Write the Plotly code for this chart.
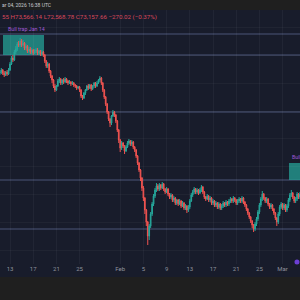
import plotly.graph_objects as go
import pandas as pd

# ---- data (6h candles) ----
start = "2026-01-11 06:00"
first_open = 91860
close = [92040, 92400, 91860, 91500, 92040, 91680, 92400, 93480, 94560, 94200,
         95640, 96180, 97080, 96900, 97620, 96900, 97260, 96360, 96720, 95820,
         96180, 95640, 96000, 95460, 95820, 96000, 95460, 95820, 95280, 95640,
         95100, 94020, 93120, 93480, 92220, 91320, 90600, 89520, 88800, 89520,
         90420, 90780, 90060, 90600, 90240, 90780, 90420, 90060, 90240, 89880,
         90060, 89700, 89520, 89160, 89340, 88800, 87720, 87360, 88260, 88800,
         89520, 89160, 89700, 88980, 89520, 90060, 89520, 90060, 90600, 90960,
         90060, 88800, 87540, 86280, 84840, 83580, 82860, 84120, 84840, 84300,
         83220, 81600, 79800, 78360, 79260, 78720, 77820, 78540, 79260, 79620,
         79080, 79440, 78540, 78000, 76920, 75660, 74400, 72960, 71160, 69360,
         67200, 65040, 62520, 64320, 66480, 68280, 69720, 70800, 71520, 70980,
         71700, 71160, 71880, 70980, 70440, 70980, 70080, 69540, 69900, 69000,
         69360, 68460, 69000, 68280, 68820, 67920, 68460, 67560, 67920, 67200,
         67740, 68820, 69900, 70440, 70980, 70440, 70800, 70260, 70800, 71340,
         70440, 69540, 69180, 69720, 69000, 69360, 68460, 68820, 68100, 68460,
         67740, 68280, 67560, 67920, 68460, 68100, 68640, 68280, 68820, 69180,
         68820, 69360, 69000, 68460, 68820, 69180, 68820, 69360, 68640, 68100,
         67380, 66660, 65940, 65220, 64500, 63780, 64680, 65580, 66840, 68100,
         69180, 70080, 69360, 68820, 69180, 68280, 67740, 68100, 67380, 66660,
         65760, 65040, 66480, 67740, 68280, 67560, 68100, 67200, 67920, 69000,
         69900, 70260, 69540, 68820, 69180, 70080, 69540, 70080]
high = [92400, 92760, 92580, 92220, 92220, 92400, 92760, 93840, 94920, 95100,
        96000, 96720, 97440, 97620, 98160, 97980, 97800, 97440, 97080, 96900,
        96540, 96540, 96360, 96180, 96180, 96360, 96360, 96000, 96000, 96000,
        95820, 95280, 94200, 93840, 93660, 92400, 91500, 90780, 89880, 89700,
        90780, 91140, 90960, 90780, 90960, 91140, 90960, 90600, 90600, 90420,
        90420, 90240, 89880, 89700, 89520, 89520, 88980, 87900, 88440, 88980,
        89700, 89880, 89880, 89880, 89700, 90240, 90240, 90420, 90780, 91320,
        91140, 90240, 88980, 87720, 86460, 85020, 83760, 84300, 85200, 85020,
        84480, 83400, 81780, 79980, 79620, 79440, 78900, 78900, 79620, 79980,
        79800, 79800, 79620, 78720, 78180, 77100, 75840, 74580, 73140, 71520,
        69540, 67380, 65220, 64680, 66840, 68640, 70080, 71160, 72060, 71880,
        72060, 71880, 72240, 72060, 71160, 71340, 71160, 70260, 70260, 70080,
        69720, 69540, 69180, 69180, 69180, 69000, 68820, 68640, 68280, 68100,
        68100, 69180, 70260, 70800, 71340, 71160, 71160, 70980, 71160, 71700,
        71520, 70620, 69720, 70080, 69900, 69720, 69540, 69180, 69000, 68820,
        68640, 68640, 68460, 68280, 68820, 68640, 69000, 68820, 69180, 69540,
        69360, 69720, 69540, 69180, 69180, 69540, 69360, 69720, 69540, 68820,
        68280, 67560, 66840, 66120, 65400, 64680, 65040, 65940, 67200, 68460,
        69540, 70620, 70260, 69540, 69540, 69360, 68460, 68460, 68280, 67560,
        66840, 65940, 66840, 68100, 68640, 68460, 68460, 68280, 68280, 69360,
        70260, 70800, 70440, 69720, 69540, 70440, 70260, 70440]
low = [91500, 91680, 91500, 91140, 91320, 91320, 91500, 92220, 93300, 93840,
       94020, 95280, 95820, 96540, 96540, 96540, 96720, 96000, 96000, 95460,
       95460, 95280, 95280, 95100, 95280, 95460, 95100, 95100, 94920, 94920,
       94740, 93660, 92760, 92760, 91860, 90960, 90060, 89160, 88440, 88620,
       89340, 90060, 89700, 89700, 89880, 90060, 90060, 89700, 89880, 89520,
       89700, 89340, 89160, 88800, 88980, 88440, 87360, 87000, 87180, 87900,
       88620, 88800, 88980, 88620, 88800, 89160, 89160, 89340, 89880, 90240,
       89700, 88440, 87180, 85920, 84480, 83220, 82140, 82500, 83940, 83940,
       82860, 81240, 79260, 77640, 78000, 78360, 77280, 77640, 78360, 78900,
       78720, 78720, 78180, 77640, 76560, 75300, 74040, 72420, 70620, 68820,
       66480, 64320, 60900, 61800, 63960, 66120, 67920, 69360, 70440, 70620,
       70620, 70800, 70980, 70620, 70080, 70260, 69720, 69180, 69180, 68640,
       68640, 68100, 68100, 67920, 68100, 67560, 67740, 67200, 67200, 66660,
       66840, 67380, 68640, 69540, 70080, 70080, 70080, 69900, 70080, 70440,
       70080, 69180, 68820, 69000, 68640, 68640, 68100, 68100, 67740, 67740,
       67380, 67380, 67200, 67200, 67560, 67740, 67740, 67920, 67920, 68460,
       68460, 68460, 68640, 68100, 68100, 68460, 68460, 68460, 68280, 67740,
       67020, 66300, 65580, 64860, 63960, 63240, 63420, 64320, 65220, 66480,
       67740, 68820, 69000, 68460, 68460, 67920, 67380, 67380, 67020, 66300,
       65400, 64320, 64680, 66120, 67380, 67200, 67200, 66840, 66840, 67560,
       68640, 69540, 69180, 68460, 68460, 68820, 69180, 69180]

tick_dates = ["2026-01-13", "2026-01-17", "2026-01-21", "2026-01-25", "2026-02-01",
              "2026-02-05", "2026-02-09", "2026-02-13", "2026-02-17", "2026-02-21",
              "2026-02-25", "2026-03-01"]
tick_labels = ["13", "17", "21", "25", "Feb", "5", "9", "13", "17", "21", "25", "Mar"]

levels = [98880, 95100, 84840, 72600, 63780]
zone1_x = ["2026-01-11 19:00", "2026-01-18 20:40"]
zone1_y = [95100, 98700]
zone1_label = "Bull trap Jan 14"
zone2_x = ["2026-03-02 02:30", "2026-03-06 00:00"]
zone2_y = [72600, 75660]
zone2_label = "Bull"

header_time = "ar 04, 2026 16:38 UTC"
header_ohlc = "55 H73,566.14 L72,568.78 C73,157.66 \u2212270.02 (\u22120.37%)"

x_range = ["2026-01-11 06:37", "2026-03-04 00:00"]
y_range = [57480, 103200]

# ---- figure ----
open_ = [first_open] + close[:-1]
times = pd.date_range(start, periods=len(close), freq="6h")

BG = "#181c2b"
STRIP = "#1f1f1f"
UP = "#26a69a"
DOWN = "#ef5350"
LEVEL = "#4a5579"

fig = go.Figure()
fig.add_trace(go.Candlestick(
    x=times, open=open_, high=high, low=low, close=close,
    increasing=dict(line=dict(color=UP, width=1), fillcolor=UP),
    decreasing=dict(line=dict(color=DOWN, width=1), fillcolor=DOWN),
    whiskerwidth=0, hoverinfo="skip",
))

shapes = []
for lv in levels:
    shapes.append(dict(type="line", xref="paper", x0=0, x1=1, yref="y", y0=lv, y1=lv,
                       line=dict(color=LEVEL, width=1.2), layer="below"))
shapes.append(dict(type="rect", xref="x", yref="y", x0=zone1_x[0], x1=zone1_x[1],
                   y0=zone1_y[0], y1=zone1_y[1], fillcolor="rgba(38,166,154,0.72)",
                   line=dict(width=0), layer="below"))
shapes.append(dict(type="rect", xref="x", yref="y", x0=zone2_x[0], x1=zone2_x[1],
                   y0=zone2_y[0], y1=zone2_y[1], fillcolor="rgba(38,166,154,0.72)",
                   line=dict(width=0), layer="below"))
# top strip and footer
shapes.append(dict(type="rect", xref="paper", yref="paper", x0=0, x1=1, y0=1, y1=1.06,
                   fillcolor=STRIP, line=dict(width=0), layer="above"))
shapes.append(dict(type="rect", xref="paper", yref="paper", x0=0, x1=1, y0=-0.0512, y1=-0.16,
                   fillcolor=STRIP, line=dict(width=0), layer="above"))
# small flag marker
shapes.append(dict(type="circle", xref="x", yref="paper", xsizemode="pixel", ysizemode="pixel",
                   xanchor="2026-03-03 11:30", yanchor=0.0079, x0=-2.5, x1=2.5, y0=-2.5, y1=2.5,
                   fillcolor="#6c3fd6", line=dict(width=0)))

annotations = [
    dict(text=header_time, xref="paper", yref="paper", x=0, y=1.0197, xanchor="left",
         yanchor="middle", showarrow=False, font=dict(size=5, color="#c9cbd1", family="Roboto")),
    dict(text=header_ohlc, xref="paper", yref="paper", x=0, y=0.9724, xanchor="left",
         yanchor="middle", showarrow=False, font=dict(size=6.2, color="#d9485a", family="Roboto")),
    dict(text=zone1_label, xref="x", yref="y", x=zone1_x[0], y=zone1_y[1], xanchor="left",
         yanchor="bottom", xshift=3, yshift=1, showarrow=False,
         font=dict(size=5.3, color="#a25ad6", family="Roboto")),
    dict(text=zone2_label, xref="x", yref="y", x=zone2_x[0], y=zone2_y[1], xanchor="left",
         yanchor="bottom", xshift=1, yshift=1, showarrow=False,
         font=dict(size=5.3, color="#a25ad6", family="Roboto")),
]

fig.update_layout(
    width=300, height=300,
    margin=dict(l=0, r=0, t=10, b=36),
    paper_bgcolor=BG, plot_bgcolor=BG,
    showlegend=False,
    shapes=shapes, annotations=annotations,
    xaxis=dict(range=x_range, rangeslider=dict(visible=False), tickmode="array",
               tickvals=tick_dates, ticktext=tick_labels, showgrid=True,
               gridcolor="rgba(255,255,255,0.045)", gridwidth=1, ticks="",
               showline=False, zeroline=False,
               tickfont=dict(size=6, color="#8f929c", family="Roboto")),
    yaxis=dict(range=y_range, showticklabels=False, showgrid=True, dtick=5000,
               gridcolor="rgba(255,255,255,0.035)", zeroline=False, showline=False),
)

fig.write_html("out.html")
